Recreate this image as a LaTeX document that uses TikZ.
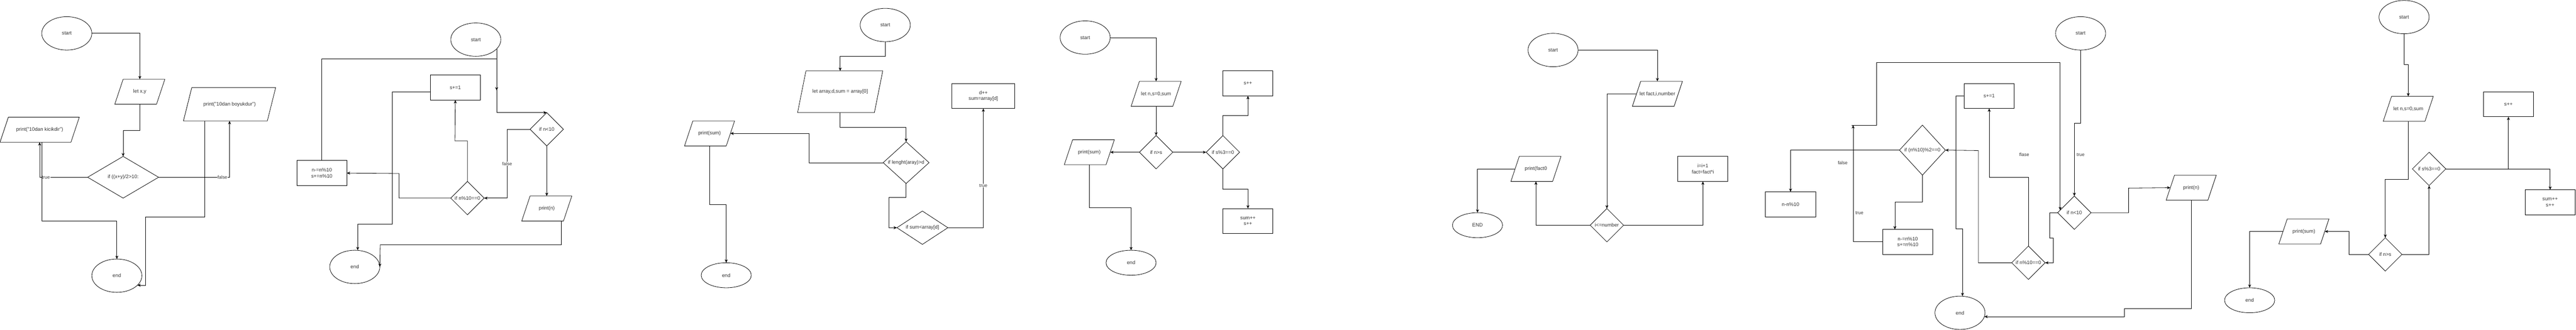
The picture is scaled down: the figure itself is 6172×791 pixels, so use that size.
\documentclass[tikz,border=0pt]{standalone}
\usepackage{fontspec}
\setmainfont{Liberation Sans}
\usetikzlibrary{shapes.geometric,arrows.meta}

\tikzset{
    base/.style={draw, inner sep=0pt, outer sep=0pt, line width=1pt, text=black!80, align=center, font=\fontsize{12pt}{14pt}\selectfont},
    term/.style={base, ellipse, minimum width=120pt, minimum height=80pt},
    proc/.style={base, rectangle, minimum width=120pt, minimum height=60pt},
    io/.style={base, draw=none, rectangle, minimum width=120pt, minimum height=60pt},
    cond/.style={base, diamond, minimum width=80pt, minimum height=80pt},
    arr/.style={line width=1pt, -{Stealth[length=8pt, width=7pt, inset=2.5pt]}},
    lbl/.style={fill=white, inner sep=1pt, text=black!80, font=\fontsize{11pt}{13pt}\selectfont}
}
\newcommand{\ioshape}[1]{\draw[line width=1pt] ([xshift=20pt]#1.north west) -- (#1.north east) -- ([xshift=-20pt]#1.south east) -- (#1.south west) -- cycle;}

\begin{document}
\begin{tikzpicture}[x=1pt, y=-1pt]
    \useasboundingbox (0,0) rectangle (6172,791);
    \fill[white] (0,0) rectangle (6172,791);

    \node[term] (s1) at (160,80) {start};
    \node[io] (in1) at (335,220) {let x,y};
    \node[cond, minimum width=170pt, minimum height=100pt] (if1) at (295,425) {if ((x+y)/2>10:};
    \node[io, minimum width=190pt] (less1) at (95,311) {print("10dan kicikdir")};
    \node[io, minimum width=221pt, minimum height=80pt] (more1) at (550,250) {print("10dan boyukdur")};
    \node[term] (e1) at (280,661) {end};
    \ioshape{in1} \ioshape{less1} \ioshape{more1}

    \draw[arr] (s1.east) -| (in1.north);
    \draw[arr] (in1.south) |- (295,313) -- (if1.north);
    \draw[arr] (if1.west) -| (less1.south);
    \draw[arr] (if1.east) -| (more1.south);
    \node[lbl] (t1) at (110,425) {true};
    \node[lbl] (f1) at (533,425) {false};
    \draw[arr] ([xshift=5pt]less1.south) -- (100,530) -| (e1.north);
    \draw[arr] ([xshift=-59pt]more1.south) -- (491,520) -- (348,520) |- (e1.-25);

    \node[term] (s2) at (1140,95) {start};
    \node[cond] (if2a) at (1310,310) {if n<10};
    \node[io] (out2) at (1310,500) {print(n)};
    \node[cond] (if2b) at (1120,475) {if n\%10==0};
    \node[proc] (inc2) at (1091,210) {s+=1};
    \node[proc] (sub2) at (771,415) {n-=n\%10\\s+=n\%10};
    \node[term] (e2) at (850,640) {end};
    \coordinate (j2) at (1190,217);
    \ioshape{out2}

    \draw[arr] (s2.-24) |- (if2a.north);
    \draw[arr] (sub2.north) |- (1190,141) -- (j2);
    \draw[arr] (if2a.west) -- (1215,310) |- (if2b.east);
    \node[lbl] (f2) at (1215,393) {false};
    \draw[arr] (if2a.south) -- (out2.north);
    \draw[arr] ([xshift=35pt]out2.south) |- (911,587) -- (e2.east);
    \draw[arr] (if2b.north) |- (1090,338) -- (inc2.south);
    \draw[arr] (if2b.west) -| (956,416) -- (sub2.east);
    \draw[arr] ([yshift=-10pt]inc2.west) -| (940,538) -| ([xshift=7pt]e2.north);

    \node[term] (s3) at (2121,60) {start};
    \node[io, minimum width=204pt, minimum height=100pt] (in3) at (2013,220) {let array,d,sum = array[0]};
    \node[cond, minimum width=110pt, minimum height=100pt] (if3a) at (2171,390) {if lenght(aray)>d};
    \node[cond, aspect=1.5, minimum width=122pt, minimum height=80pt] (if3b) at (2210,546) {if sum<array[d]};
    \node[proc, minimum width=150pt] (inc3) at (2356,230) {d++\\sum=array[d]};
    \node[io] (out3) at (1700,320) {print(sum)};
    \node[term, minimum height=60pt] (e3) at (1740,660) {end};
    \ioshape{in3} \ioshape{out3}

    \draw[arr] (s3.south) |- (2013,135) -- (in3.north);
    \draw[arr] (in3.south) |- (2171,305) -- (if3a.north);
    \draw[arr] (if3a.west) -| (1938,320) -- ([xshift=-10pt]out3.east);
    \draw[arr] (out3.south) |- (1740,490) -- (e3.north);
    \draw[arr] (if3a.south) |- (2130,473) |- (if3b.west);
    \draw[arr] (if3b.east) -| (inc3.south);
    \node[lbl] (t3) at (2356,445) {true};

    \node[term] (s4) at (2600,90) {start};
    \node[io] (in4) at (2770,225) {let n,s=0,sum};
    \node[cond] (if4a) at (2770,365) {if n>s};
    \node[io] (out4) at (2610,365) {print(sum)};
    \node[term, minimum height=60pt] (e4) at (2710,630) {end};
    \node[cond] (if4b) at (2930,365) {if s\%3==0};
    \node[proc] (inc4) at (2990,200) {s++};
    \node[proc] (sum4) at (2990,530) {sum++\\s++};
    \ioshape{in4} \ioshape{out4}

    \draw[arr] (s4.east) -| (in4.north);
    \draw[arr] (in4.south) -- (if4a.north);
    \draw[arr] (if4a.west) -- ([xshift=-10pt]out4.east);
    \draw[arr] (out4.south) |- (2710,498) -- (e4.north);
    \draw[arr] (if4a.east) -- (if4b.west);
    \draw[arr] (if4b.north) |- (2990,277) -- (inc4.south);
    \draw[arr] (if4b.south) |- (2990,453) -- (sum4.north);

    \node[term] (s5) at (3721,120) {start};
    \node[io] (in5) at (3971,225) {let fact,i,number};
    \node[cond] (if5) at (3850,540) {i<=number};
    \node[proc] (inc5) at (4080,405) {i=i+1\\fact=fact*i};
    \node[io] (out5) at (3680,405) {print(fact0};
    \node[term, minimum height=60pt] (e5) at (3540,540) {END};
    \ioshape{in5} \ioshape{out5}

    \draw[arr] (s5.east) -| (in5.north);
    \draw[arr] ([xshift=10pt]in5.west) -| (if5.north);
    \draw[arr] (if5.east) -| (inc5.south);
    \draw[arr] (if5.west) -| (out5.south);
    \draw[arr] ([xshift=10pt]out5.west) -| (e5.north);

    \node[term] (s6) at (4985,80) {start};
    \node[cond] (if6a) at (4970,510) {if n<10};
    \node[io] (out6) at (5250,450) {print(n)};
    \node[cond] (if6b) at (4860,630) {if n\%10==0};
    \node[proc] (inc6) at (4766,230) {s+=1};
    \node[cond, minimum width=110pt, minimum height=120pt] (if6c) at (4606,360) {if (n\%10)\%2==0};
    \node[proc] (sub6) at (4571,580) {n-=n\%10\\s+=n\%10};
    \node[proc] (mod6) at (4290,490) {n-n\%10};
    \node[term] (e6) at (4696,750) {end};
    \coordinate (j6) at (4440,300);
    \ioshape{out6}

    \draw[arr] (s6.south) |- (4970,296) -- (if6a.north);
    \node[lbl, fill=none] (t6a) at (4985,371) {true};
    \draw[arr] (if6a.east) -| (5100,451) -- ([xshift=10pt]out6.west);
    \draw[arr] (out6.south) |- (5090,740) |- (e6.-9);
    \draw[arr] (if6a.west) -| (4911,571) -| (4920,630) -- (if6b.east);
    \draw[arr] (if6b.north) |- (4766,425) -- (inc6.south);
    \node[lbl, fill=none] (f6a) at (4850,371) {flase};
    \draw[arr] (if6b.west) -| (4740,361) -- (if6c.east);
    \draw[arr] (inc6.west) -| (4686,548) -| ([xshift=6pt]e6.north);
    \draw[arr] (if6c.west) -| (mod6.north);
    \node[lbl, fill=none] (f6b) at (4415,390) {false};
    \draw[arr] (if6c.south) |- (4540,485) -- ([xshift=-31pt]sub6.north);
    \draw[arr] (sub6.west) -| (j6);
    \node[lbl, fill=none] (t6b) at (4455,511) {true};
    \draw[arr] ([xshift=-4pt]j6) -| (4496,150) -| ([xshift=6pt, yshift=6pt]if6a.west);

    \node[term] (s7) at (5760,41) {start};
    \node[io] (in7) at (5770,261) {let n,s=0,sum};
    \node[cond] (if7a) at (5715,610) {if n>s};
    \node[io] (out7) at (5520,555) {print(sum)};
    \node[term, minimum height=60pt] (e7) at (5390,720) {end};
    \node[cond] (if7b) at (5820,405) {if s\%3==0};
    \node[proc] (inc7) at (6010,250) {s++};
    \node[proc] (sum7) at (6110,485) {sum++\\s++};
    \ioshape{in7} \ioshape{out7}

    \draw[arr] (s7.south) |- (5770,155) -- (in7.north);
    \draw[arr] (in7.south) |- (5715,430) -- (if7a.north);
    \draw[arr] (if7a.west) -| (5628,555) -- ([xshift=-10pt]out7.east);
    \draw[arr] ([xshift=10pt]out7.west) -| (e7.north);
    \draw[arr] (if7a.east) -| (if7b.south);
    \draw[arr] (if7b.east) -| (inc7.south);
    \draw[arr] (if7b.east) -| (sum7.north);
\end{tikzpicture}
\end{document}
